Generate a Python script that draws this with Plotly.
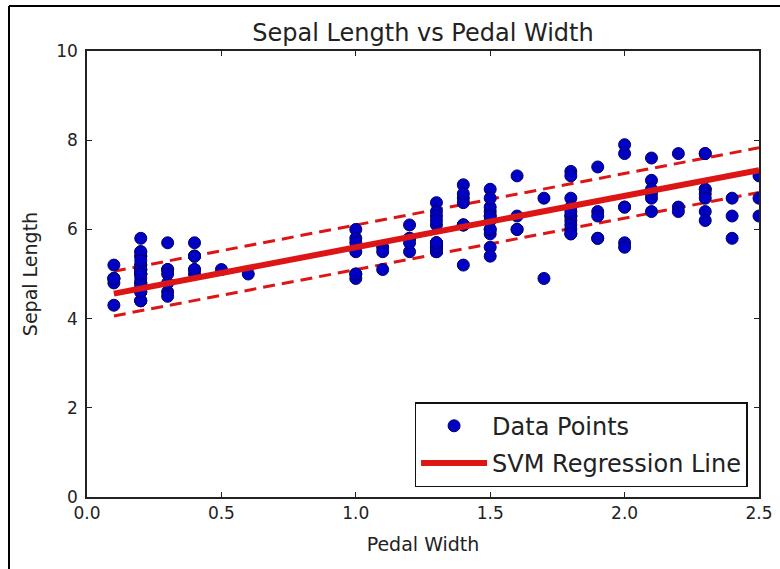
import plotly.graph_objects as go

# Iris data: petal width (x) vs sepal length (y)
petal_width = [
    0.2,0.2,0.2,0.2,0.2,0.4,0.3,0.2,0.2,0.1,0.2,0.2,0.1,0.1,0.2,0.4,0.4,0.3,0.3,0.3,
    0.2,0.4,0.2,0.5,0.2,0.2,0.4,0.2,0.2,0.2,0.2,0.4,0.1,0.2,0.1,0.2,0.2,0.1,0.2,0.2,
    0.3,0.3,0.2,0.6,0.4,0.3,0.2,0.2,0.2,0.2,
    1.4,1.5,1.5,1.3,1.5,1.3,1.6,1.0,1.3,1.4,1.0,1.5,1.0,1.4,1.3,1.4,1.5,1.0,1.5,1.1,
    1.8,1.3,1.5,1.2,1.3,1.4,1.4,1.7,1.5,1.0,1.1,1.0,1.2,1.6,1.5,1.6,1.5,1.3,1.3,1.3,
    1.2,1.4,1.2,1.0,1.3,1.2,1.3,1.3,1.1,1.3,
    2.5,1.9,2.1,1.8,2.2,2.1,1.7,1.8,1.8,2.5,2.0,1.9,2.1,2.0,2.4,2.3,1.8,2.2,2.3,1.5,
    2.3,2.0,2.0,1.8,2.1,1.8,1.8,1.8,2.1,1.6,1.9,2.0,2.2,1.5,1.4,2.3,2.4,1.8,1.8,2.1,
    2.4,2.3,1.9,2.3,2.5,2.3,1.9,2.0,2.3,1.8,
]
sepal_length = [
    5.1,4.9,4.7,4.6,5.0,5.4,4.6,5.0,4.4,4.9,5.4,4.8,4.8,4.3,5.8,5.7,5.4,5.1,5.7,5.1,
    5.4,5.1,4.6,5.1,4.8,5.0,5.0,5.2,5.2,4.7,4.8,5.4,5.2,5.5,4.9,5.0,5.5,4.9,4.4,5.1,
    5.0,4.5,4.4,5.0,5.1,4.8,5.1,4.6,5.3,5.0,
    7.0,6.4,6.9,5.5,6.5,5.7,6.3,4.9,6.6,5.2,5.0,5.9,6.0,6.1,5.6,6.7,5.6,5.8,6.2,5.6,
    5.9,6.1,6.3,6.1,6.4,6.6,6.8,6.7,6.0,5.7,5.5,5.5,5.8,6.0,5.4,6.0,6.7,6.3,5.6,5.5,
    5.5,6.1,5.8,5.0,5.6,5.7,5.7,6.2,5.1,5.7,
    6.3,5.8,7.1,6.3,6.5,7.6,4.9,7.3,6.7,7.2,6.5,6.4,6.8,5.7,5.8,6.4,6.5,7.7,7.7,6.0,
    6.9,5.6,7.7,6.3,6.7,7.2,6.2,6.1,6.4,7.2,7.4,7.9,6.4,6.3,6.1,7.7,6.3,6.4,6.0,6.9,
    6.7,6.9,5.8,6.8,6.7,6.7,6.3,6.5,6.2,5.9,
]

# SVM regression line and epsilon-tube (endpoints)
line_x = [0.1, 2.5]
line_y = [4.56, 7.33]
upper_y = [5.06, 7.83]
lower_y = [4.06, 6.83]

x_ticks = [0.0, 0.5, 1.0, 1.5, 2.0, 2.5]
y_ticks = [0, 2, 4, 6, 8, 10]

RED = "#dd1515"
FONT = "DejaVu Sans"
TXT = "#222222"

fig = go.Figure()
fig.add_trace(go.Scatter(
    x=line_x, y=upper_y, mode="lines", showlegend=False,
    line=dict(color=RED, width=3, dash="12px,7px"), hoverinfo="skip"))
fig.add_trace(go.Scatter(
    x=line_x, y=lower_y, mode="lines", showlegend=False,
    line=dict(color=RED, width=3, dash="12px,7px"), hoverinfo="skip"))
fig.add_trace(go.Scatter(
    x=petal_width, y=sepal_length, mode="markers", name="Data Points",
    legendgroup="a",
    marker=dict(size=12, color="#0000c4", line=dict(color="#00006a", width=1))))
fig.add_trace(go.Scatter(
    x=line_x, y=line_y, mode="lines", name="SVM Regression Line",
    legendgroup="b",
    line=dict(color=RED, width=6)))

axis_common = dict(
    showgrid=False, zeroline=False, showline=True, linecolor=TXT, linewidth=1.5,
    mirror="ticks", ticks="inside", ticklen=5, tickwidth=1, tickcolor=TXT,
    tickfont=dict(family=FONT, size=17, color=TXT), automargin=False,
)

fig.update_layout(
    width=780, height=569,
    margin=dict(l=87, r=21, t=51, b=72, autoexpand=False),
    paper_bgcolor="white", plot_bgcolor="white",
    title=dict(text="Sepal Length vs Pedal Width", x=0.5, xref="paper",
               y=1 - 33 / 569, yanchor="middle",
               font=dict(family=FONT, size=24, color=TXT)),
    xaxis=dict(range=[0, 2.5], tickvals=x_ticks,
               ticktext=[f"{v:.1f}" for v in x_ticks],
               title=dict(text="Pedal Width", font=dict(family=FONT, size=19, color=TXT),
                          standoff=16),
               **axis_common),
    yaxis=dict(range=[0, 10], tickvals=y_ticks,
               ticktext=[str(v) for v in y_ticks],
               ticklabelstandoff=4,
               title=dict(text="Sepal Length", font=dict(family=FONT, size=19, color=TXT),
                          standoff=14),
               **axis_common),
    legend=dict(x=0.983, y=0.022, xanchor="right", yanchor="bottom",
                bgcolor="white", bordercolor="#111111", borderwidth=1.5,
                font=dict(family=FONT, size=24, color=TXT),
                tracegroupgap=3, itemwidth=66),
    shapes=[
        dict(type="line", xref="paper", yref="paper",
             x0=(9 - 87) / 672, x1=(9 - 87) / 672, y0=(497 - 569) / 446, y1=(497 - 6) / 446,
             line=dict(color="black", width=2)),
        dict(type="line", xref="paper", yref="paper",
             x0=(9 - 87) / 672, x1=(780 - 87) / 672, y0=(497 - 6) / 446, y1=(497 - 6) / 446,
             line=dict(color="black", width=2)),
    ],
)

fig.write_html("out.html", config={"displayModeBar": False},
               post_script="document.body.style.margin='0';document.body.style.overflow='hidden';")
